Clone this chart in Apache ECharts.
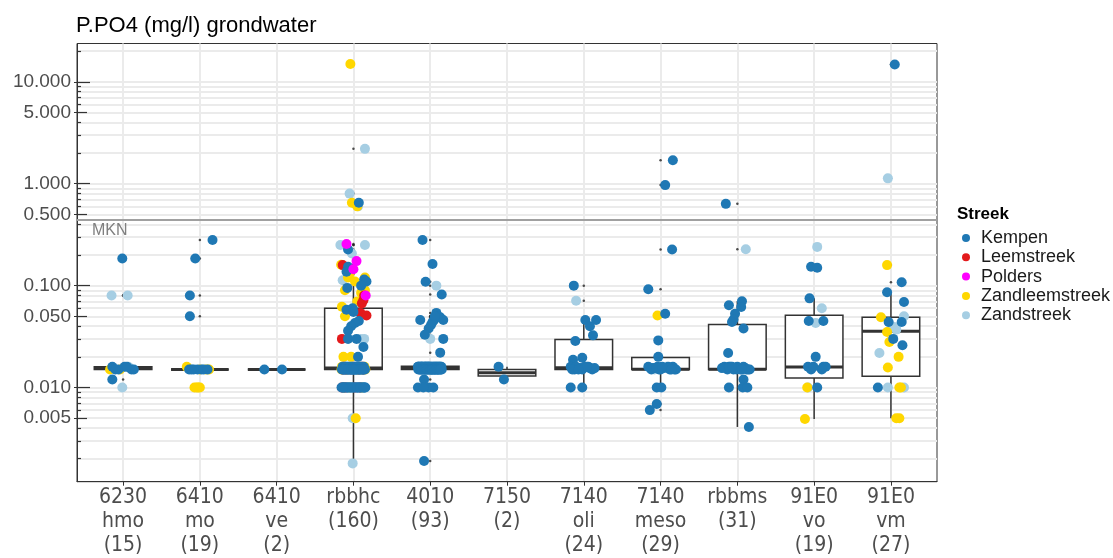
<!DOCTYPE html>
<html>
<head>
<meta charset="utf-8">
<script src="https://cdn.jsdelivr.net/npm/echarts@6/dist/echarts.min.js"></script>
<style>
  html, body { margin: 0; padding: 0; background: #ffffff; }
  #chart { width: 1113px; height: 558px; }
</style>
</head>
<body>
<div id="chart"></div>
<script>
// ---- data ----------------------------------------------------------------
const categories = ['6230\nhmo\n(15)', '6410\nmo\n(19)', '6410\nve\n(2)', 'rbbhc\n(160)', '4010\n(93)',
  '7150\n(2)', '7140\noli\n(24)', '7140\nmeso\n(29)', 'rbbms\n(31)', '91E0\nvo\n(19)', '91E0\nvm\n(27)'];
const streeks = ['Kempen', 'Leemstreek', 'Polders', 'Zandleemstreek', 'Zandstreek'];
const streekCode = { K: 'Kempen', L: 'Leemstreek', P: 'Polders', ZL: 'Zandleemstreek', Z: 'Zandstreek' };

const yLabelValues = [0.005, 0.01, 0.05, 0.1, 0.5, 1, 5, 10];
const decadeTicks = [0.01, 0.1, 1, 10];
const fiveTicks = [0.005, 0.05, 0.5, 5];
const minorTicks = [0.002, 0.003, 0.004, 0.006, 0.007, 0.008, 0.009,
  0.02, 0.03, 0.04, 0.06, 0.07, 0.08, 0.09,
  0.2, 0.3, 0.4, 0.6, 0.7, 0.8, 0.9,
  2, 3, 4, 6, 7, 8, 9, 20];
const mkn = 0.44;

// box statistics per category: [lower whisker, Q1, median, Q3, upper whisker]
const boxStats = [
  [0.015, 0.015, 0.0155, 0.016, 0.016],
  [0.015, 0.015, 0.015, 0.015, 0.015],
  [0.015, 0.015, 0.015, 0.015, 0.015],
  [0.0018, 0.015, 0.0155, 0.06, 0.12],
  [0.015, 0.015, 0.0156, 0.0162, 0.0162],
  [0.012, 0.013, 0.014, 0.015, 0.016],
  [0.01, 0.015, 0.0156, 0.0296, 0.046],
  [0.01, 0.015, 0.0151, 0.0197, 0.0197],
  [0.0041, 0.015, 0.0151, 0.0416, 0.0704],
  [0.0049, 0.0124, 0.0159, 0.0513, 0.075],
  [0.005, 0.0129, 0.0357, 0.049, 0.086]
];

// measurements per category: [value, streek]
const pts_hmo = [
  [0.185, 'K'], [0.08, 'Z'], [0.08, 'Z'], [0.016, 'K'], [0.016, 'K'],
  [0.015, 'K'], [0.015, 'K'], [0.015, 'ZL'], [0.015, 'ZL'], [0.016, 'Z'],
  [0.015, 'K'], [0.016, 'K'], [0.015, 'K'], [0.012, 'K'], [0.01, 'Z']
];
const pts_mo = [
  [0.28, 'K'], [0.185, 'K'], [0.08, 'K'], [0.05, 'K'], [0.016, 'ZL'],
  [0.015, 'ZL'], [0.015, 'K'], [0.015, 'K'], [0.015, 'K'], [0.015, 'K'],
  [0.015, 'ZL'], [0.015, 'K'], [0.015, 'ZL'], [0.015, 'K'], [0.015, 'K'],
  [0.01, 'ZL'], [0.01, 'ZL'], [0.01, 'ZL'], [0.01, 'ZL']
];
const pts_ve = [[0.015, 'K'], [0.015, 'K']];
const pts_rbbhc = [
  [15, 'ZL'], [2.2, 'Z'], [0.8, 'Z'], [0.65, 'ZL'], [0.6, 'Z'],
  [0.6, 'ZL'], [0.65, 'K'], [0.25, 'Z'], [0.256, 'P'], [0.25, 'Z'],
  [0.226, 'K'], [0.207, 'Z'], [0.174, 'P'], [0.16, 'ZL'], [0.159, 'L'],
  [0.153, 'K'], [0.137, 'K'], [0.145, 'P'], [0.113, 'Z'], [0.12, 'ZL'],
  [0.11, 'ZL'], [0.12, 'ZL'], [0.115, 'K'], [0.11, 'K'], [0.09, 'ZL'],
  [0.095, 'K'], [0.09, 'ZL'], [0.085, 'ZL'], [0.08, 'L'], [0.08, 'P'],
  [0.072, 'L'], [0.067, 'L'], [0.062, 'ZL'], [0.1, 'K'], [0.13, 'ZL'],
  [0.07, 'ZL'],
  [0.06, 'K'], [0.058, 'K'], [0.055, 'K'], [0.05, 'ZL'], [0.054, 'L'],
  [0.051, 'L'], [0.045, 'K'], [0.043, 'K'], [0.04, 'K'], [0.036, 'K'],
  [0.03, 'L'], [0.03, 'K'], [0.03, 'K'], [0.03, 'Z'], [0.03, 'Z'],
  [0.025, 'K'], [0.02, 'ZL'], [0.02, 'ZL'], [0.02, 'K'],
  // 0.016 row
  [0.016, 'K'], [0.016, 'K'], [0.016, 'K'], [0.016, 'K'], [0.016, 'K'],
  [0.016, 'K'], [0.016, 'K'], [0.016, 'K'], [0.016, 'K'], [0.016, 'K'],
  [0.016, 'K'], [0.016, 'K'], [0.016, 'K'], [0.016, 'K'], [0.016, 'K'],
  [0.016, 'ZL'], [0.016, 'ZL'], [0.016, 'ZL'], [0.016, 'ZL'],
  [0.016, 'Z'], [0.016, 'Z'], [0.016, 'Z'],
  [0.016, 'L'], [0.016, 'L'], [0.016, 'L'],
  // 0.015 row
  [0.015, 'K'], [0.015, 'K'], [0.015, 'K'], [0.015, 'K'], [0.015, 'K'],
  [0.015, 'K'], [0.015, 'K'], [0.015, 'K'], [0.015, 'K'], [0.015, 'K'],
  [0.015, 'K'], [0.015, 'K'], [0.015, 'K'], [0.015, 'K'], [0.015, 'K'],
  [0.015, 'K'], [0.015, 'K'], [0.015, 'K'], [0.015, 'K'], [0.015, 'K'],
  [0.015, 'K'], [0.015, 'K'], [0.015, 'K'], [0.015, 'K'], [0.015, 'K'],
  [0.015, 'K'], [0.015, 'K'], [0.015, 'K'], [0.015, 'K'], [0.015, 'K'],
  [0.015, 'ZL'], [0.015, 'ZL'], [0.015, 'ZL'], [0.015, 'ZL'], [0.015, 'ZL'],
  [0.015, 'Z'], [0.015, 'Z'], [0.015, 'Z'],
  [0.015, 'L'], [0.015, 'L'], [0.015, 'L'], [0.015, 'L'], [0.015, 'L'],
  // 0.010 row
  [0.01, 'K'], [0.01, 'K'], [0.01, 'K'], [0.01, 'K'], [0.01, 'K'],
  [0.01, 'K'], [0.01, 'K'], [0.01, 'K'], [0.01, 'K'], [0.01, 'K'],
  [0.01, 'K'], [0.01, 'K'], [0.01, 'K'], [0.01, 'K'], [0.01, 'K'],
  [0.01, 'K'], [0.01, 'K'], [0.01, 'K'], [0.01, 'K'], [0.01, 'K'],
  [0.01, 'K'], [0.01, 'K'], [0.01, 'K'], [0.01, 'K'],
  [0.01, 'L'], [0.01, 'L'], [0.01, 'L'], [0.01, 'L'],
  [0.01, 'ZL'], [0.01, 'ZL'], [0.01, 'ZL'],
  [0.01, 'Z'], [0.01, 'Z'], [0.01, 'Z'],
  [0.005, 'ZL'], [0.005, 'Z'], [0.0018, 'Z']
];
const pts_4010 = [
  [0.28, 'K'], [0.163, 'K'], [0.109, 'K'], [0.1, 'Z'], [0.082, 'K'],
  [0.054, 'K'], [0.049, 'K'], [0.046, 'K'], [0.046, 'K'], [0.046, 'K'],
  [0.041, 'K'], [0.038, 'K'], [0.033, 'K'], [0.03, 'Z'], [0.03, 'K'],
  [0.022, 'K'], [0.05, 'K'], [0.044, 'K'], [0.05, 'K'],
  [0.012, 'K'], [0.01, 'K'], [0.01, 'K'], [0.01, 'K'], [0.01, 'K'], [0.0019, 'K'],
  // 0.016 band
  [0.016, 'K'], [0.016, 'K'], [0.016, 'K'], [0.016, 'K'], [0.016, 'K'],
  [0.016, 'K'], [0.016, 'K'], [0.016, 'K'], [0.016, 'K'], [0.016, 'K'],
  [0.016, 'K'], [0.016, 'K'], [0.016, 'K'], [0.016, 'K'], [0.016, 'K'],
  [0.016, 'K'], [0.016, 'K'], [0.016, 'K'], [0.016, 'K'], [0.016, 'K'],
  [0.016, 'K'], [0.016, 'K'], [0.016, 'K'], [0.016, 'K'], [0.016, 'K'],
  [0.016, 'K'], [0.016, 'K'], [0.016, 'K'], [0.016, 'K'], [0.016, 'K'],
  [0.016, 'K'], [0.016, 'K'], [0.016, 'K'], [0.016, 'K'],
  // 0.015 band
  [0.015, 'K'], [0.015, 'K'], [0.015, 'K'], [0.015, 'K'], [0.015, 'K'],
  [0.015, 'K'], [0.015, 'K'], [0.015, 'K'], [0.015, 'K'], [0.015, 'K'],
  [0.015, 'K'], [0.015, 'K'], [0.015, 'K'], [0.015, 'K'], [0.015, 'K'],
  [0.015, 'K'], [0.015, 'K'], [0.015, 'K'], [0.015, 'K'], [0.015, 'K'],
  [0.015, 'K'], [0.015, 'K'], [0.015, 'K'], [0.015, 'K'], [0.015, 'K'],
  [0.015, 'K'], [0.015, 'K'], [0.015, 'K'], [0.015, 'K'], [0.015, 'K'],
  [0.015, 'K'], [0.015, 'K'], [0.015, 'K'], [0.015, 'K']
];
const pts_7150 = [[0.016, 'K'], [0.012, 'K']];
const pts_oli = [
  [0.1, 'K'], [0.071, 'Z'], [0.046, 'K'], [0.046, 'K'], [0.04, 'K'],
  [0.0325, 'K'], [0.0286, 'K'], [0.0196, 'K'], [0.0187, 'K'],
  [0.016, 'K'], [0.015, 'K'], [0.0155, 'K'], [0.016, 'K'], [0.016, 'K'],
  [0.015, 'K'], [0.0155, 'K'], [0.016, 'K'], [0.015, 'K'], [0.0155, 'K'],
  [0.015, 'K'], [0.016, 'K'], [0.015, 'K'],
  [0.01, 'K'], [0.01, 'K']
];
const pts_meso = [
  [1.7, 'K'], [0.97, 'K'], [0.226, 'K'], [0.092, 'K'], [0.051, 'ZL'],
  [0.053, 'K'], [0.029, 'K'], [0.02, 'K'],
  [0.016, 'K'], [0.015, 'K'], [0.015, 'Z'], [0.016, 'K'], [0.015, 'K'],
  [0.0155, 'K'], [0.016, 'Z'], [0.015, 'K'], [0.016, 'K'], [0.015, 'K'],
  [0.0155, 'K'], [0.015, 'K'], [0.016, 'K'], [0.015, 'K'], [0.0155, 'K'],
  [0.015, 'K'], [0.016, 'K'],
  [0.01, 'K'], [0.01, 'K'], [0.0069, 'K'], [0.006, 'K']
];
const pts_rbbms = [
  [0.635, 'K'], [0.228, 'Z'], [0.0704, 'K'], [0.0618, 'K'], [0.0643, 'K'],
  [0.053, 'K'], [0.0465, 'K'], [0.044, 'K'], [0.038, 'K'], [0.0218, 'K'],
  [0.016, 'K'], [0.015, 'K'], [0.016, 'K'], [0.015, 'K'], [0.016, 'K'],
  [0.015, 'K'], [0.016, 'K'], [0.015, 'K'], [0.015, 'K'], [0.0155, 'K'],
  [0.016, 'K'], [0.015, 'K'], [0.0155, 'K'], [0.015, 'K'], [0.016, 'K'],
  [0.015, 'K'],
  [0.012, 'K'], [0.01, 'K'], [0.01, 'K'], [0.01, 'K'], [0.0041, 'K']
];
const pts_vo = [
  [0.24, 'Z'], [0.153, 'K'], [0.15, 'K'], [0.075, 'K'], [0.06, 'Z'],
  [0.045, 'K'], [0.045, 'K'], [0.043, 'Z'], [0.02, 'K'], [0.016, 'K'],
  [0.015, 'K'], [0.016, 'K'], [0.016, 'K'], [0.015, 'K'], [0.016, 'K'],
  [0.01, 'ZL'], [0.01, 'K'], [0.01, 'Z'], [0.0049, 'ZL']
];
const pts_vm = [
  [14.8, 'K'], [1.13, 'Z'], [0.159, 'ZL'], [0.108, 'K'], [0.086, 'K'],
  [0.069, 'K'], [0.049, 'ZL'], [0.05, 'Z'], [0.044, 'K'], [0.044, 'K'],
  [0.039, 'Z'], [0.037, 'Z'], [0.035, 'ZL'], [0.028, 'ZL'], [0.026, 'K'],
  [0.0218, 'Z'], [0.02, 'ZL'], [0.0157, 'ZL'], [0.01, 'K'], [0.01, 'ZL'],
  [0.01, 'Z'], [0.01, 'Z'], [0.005, 'ZL'], [0.005, 'ZL'], [0.04, 'Z'],
  [0.03, 'K'], [0.01, 'ZL']
];

// horizontal jitter of each measurement (in category widths), same order as above
const jit_hmo = [-0.01, -0.15, 0.06, -0.14, 0.02, 0.11, 0.14, -0.17, -0.04, 0.07, -0.06, 0.05, -0.10, -0.14, -0.01];
const jit_mo = [0.165, -0.06, -0.13, -0.13, -0.17, 0.12, -0.14, -0.03, 0.02, 0.05, 0.08, -0.08, 0.0, 0.10, -0.11, -0.07, -0.04, -0.02, 0.0];
const jit_ve = [-0.16, 0.07];
const jit_rbbhc = [
  -0.04, 0.15, -0.05, -0.02, 0.06, 0.05, 0.07, -0.17, -0.09, 0.15,
  -0.07, -0.02, 0.04, -0.16, -0.14, -0.07, -0.09, 0.0, -0.14, -0.07,
  0.02, 0.15, 0.14, 0.17, -0.11, -0.08, 0.15, 0.10, 0.14, 0.16,
  0.13, 0.11, -0.15, 0.10, -0.05, 0.05,
  -0.01, -0.09, 0.0, -0.11, 0.09, 0.17, 0.07, 0.02, -0.03, -0.07,
  -0.15, -0.07, 0.04, 0.09, 0.14, 0.13, -0.13, -0.03, 0.06,
  -0.14, -0.11, -0.085, -0.06, -0.035, -0.015, 0.01, 0.03, 0.05, 0.07, 0.09, 0.11, 0.135, -0.10, 0.055,
  -0.15, -0.05, 0.085, 0.145, -0.07, 0.02, 0.105, -0.125, 0.0, 0.12,
  -0.15, -0.135, -0.12, -0.105, -0.09, -0.075, -0.065, -0.05, -0.035, -0.02,
  -0.01, 0.005, 0.02, 0.035, 0.05, 0.065, 0.075, 0.09, 0.105, 0.12,
  0.135, 0.15, -0.125, -0.07, -0.03, 0.015, 0.04, 0.085, 0.125, 0.0,
  -0.155, -0.085, 0.055, 0.11, 0.155, -0.11, 0.03, 0.10, -0.14, -0.04, 0.07, 0.13, -0.10,
  -0.155, -0.135, -0.115, -0.09, -0.07, -0.05, -0.03, -0.01, 0.015, 0.035,
  0.055, 0.075, 0.10, 0.12, 0.14, 0.155, -0.12, -0.08, -0.035, 0.005,
  0.05, 0.09, 0.135, -0.14,
  -0.15, -0.105, 0.02, 0.085, -0.125, -0.055, 0.11, -0.085, 0.065, 0.15,
  0.03, -0.01, -0.01
];
const jit_4010 = [
  -0.10, 0.03, -0.06, 0.08, 0.15, 0.08, 0.13, 0.17, 0.05, -0.13,
  0.01, -0.02, -0.07, 0.0, 0.17, 0.13, 0.10, 0.03, 0.06,
  -0.08, -0.16, -0.02, 0.04, -0.09, -0.08,
  -0.16, -0.15, -0.135, -0.125, -0.115, -0.105, -0.095, -0.08, -0.07, -0.06,
  -0.05, -0.04, -0.03, -0.02, -0.01, 0.0, 0.01, 0.02, 0.035, 0.045,
  0.055, 0.065, 0.075, 0.085, 0.095, 0.105, 0.115, 0.125, 0.135, 0.145,
  -0.155, -0.11, -0.065, -0.025, 0.015, 0.06, 0.1, 0.15,
  -0.155, -0.14, -0.13, -0.12, -0.11, -0.1, -0.085, -0.075, -0.065, -0.055,
  -0.045, -0.035, -0.025, -0.015, -0.005, 0.005, 0.015, 0.025, 0.03, 0.04,
  0.05, 0.06, 0.07, 0.08, 0.09, 0.1, 0.11, 0.12, 0.13, 0.14,
  -0.1, 0.0, 0.09, 0.15
];
const jit_7150 = [-0.11, -0.04];
const jit_oli = [-0.13, -0.10, 0.02, 0.16, 0.08, 0.12, -0.11, -0.02, -0.14,
  -0.17, -0.12, -0.05, 0.01, 0.06, 0.11, 0.08, -0.10, -0.02, 0.14, -0.15, 0.04, -0.07,
  -0.17, -0.02];
const jit_meso = [0.16, 0.06, 0.15, -0.16, -0.04, 0.06, -0.03, -0.03,
  -0.16, -0.12, -0.08, -0.04, 0.0, 0.04, 0.08, 0.12, 0.16, 0.2, -0.1, -0.02, 0.1, 0.18, -0.06, 0.14, 0.02,
  -0.05, 0.01, -0.05, -0.14];
const jit_rbbms = [-0.15, 0.11, 0.06, 0.05, -0.11, -0.03, -0.05, -0.07, 0.08, -0.12,
  -0.17, -0.13, -0.09, -0.05, 0.0, 0.04, 0.08, 0.12, 0.16, -0.2, -0.11, -0.01, 0.1, 0.14, -0.07, 0.06,
  0.08, -0.11, 0.07, 0.13, 0.15];
const jit_vo = [0.04, -0.04, 0.04, -0.06, 0.10, -0.07, 0.12, 0.02, 0.02, -0.08,
  -0.04, 0.12, 0.15, 0.10, -0.01, -0.09, 0.04, -0.08, -0.12];
const jit_vm = [0.05, -0.04, -0.05, 0.14, -0.05, 0.17, -0.13, 0.17, -0.03, 0.14,
  0.06, 0.07, -0.05, -0.02, 0.15, -0.15, 0.10, -0.04, -0.17, 0.11,
  -0.04, 0.17, 0.07, 0.11, 0.01, 0.03, 0.13];

const pointsByCategory = [pts_hmo, pts_mo, pts_ve, pts_rbbhc, pts_4010, pts_7150, pts_oli, pts_meso, pts_rbbms, pts_vo, pts_vm];
const jitterByCategory = [jit_hmo, jit_mo, jit_ve, jit_rbbhc, jit_4010, jit_7150, jit_oli, jit_meso, jit_rbbms, jit_vo, jit_vm];

// ---- styling --------------------------------------------------------------
const streekColors = {
  Kempen: '#1f78b4', Leemstreek: '#e31a1c', Polders: '#ff00ff',
  Zandleemstreek: '#ffd700', Zandstreek: '#a6cee3'
};
const drawOrder = ['Zandstreek', 'Zandleemstreek', 'Leemstreek', 'Kempen', 'Polders'];
const gridColor = '#ebebeb';
const inkColor = '#333333';
const textColor = '#4d4d4d';
const sans = '"Liberation Sans", Arial, sans-serif';
const narrow = '"Liberation Sans Narrow", "Arial Narrow", "DejaVu Sans Condensed", sans-serif';

// ---- series assembly ----------------------------------------------------------
const pointSeriesData = {};
streeks.forEach(s => { pointSeriesData[s] = []; });
const outlierData = [];
pointsByCategory.forEach((pts, ci) => {
  const jit = jitterByCategory[ci];
  const [lo, , , , hi] = boxStats[ci];
  pts.forEach(([v, code], k) => {
    pointSeriesData[streekCode[code]].push([ci + jit[k], v]);
    if (v > hi || v < lo) outlierData.push([ci, v]);
  });
});

const catIndex = categories.map((_, i) => i);
const yBase = { type: 'log', logBase: 10, min: 0.00119, max: 23.8, position: 'left', gridIndex: 0 };
const hiddenLabel = { show: false };

function boxRenderItem(params, api) {
  const i = api.value(0);
  const lo = api.value(1), q1 = api.value(2), md = api.value(3), q3 = api.value(4), hi = api.value(5);
  const left = api.coord([i - 0.375, md])[0];
  const right = api.coord([i + 0.375, md])[0];
  const cx = api.coord([i, md])[0];
  const yLo = api.coord([i, lo])[1], yQ1 = api.coord([i, q1])[1], yMd = api.coord([i, md])[1];
  const yQ3 = api.coord([i, q3])[1], yHi = api.coord([i, hi])[1];
  const st = { stroke: inkColor, lineWidth: 1.5, fill: null };
  return {
    type: 'group',
    children: [
      { type: 'line', shape: { x1: cx, y1: yHi, x2: cx, y2: yQ3 }, style: st },
      { type: 'line', shape: { x1: cx, y1: yQ1, x2: cx, y2: yLo }, style: st },
      { type: 'rect', shape: { x: left, y: yQ3, width: right - left, height: yQ1 - yQ3 },
        style: { stroke: inkColor, lineWidth: 1.5, fill: '#ffffff' } },
      { type: 'line', shape: { x1: left, y1: yMd, x2: right, y2: yMd }, style: { stroke: inkColor, lineWidth: 3 } }
    ]
  };
}

const series = [
  {
    type: 'custom', name: 'box', silent: true, z: 2,
    data: boxStats.map((s, i) => [i].concat(s)),
    encode: { x: 0, y: [1, 2, 3, 4, 5] },
    renderItem: boxRenderItem
  },
  {
    type: 'scatter', name: 'outlier', silent: true, z: 2,
    symbol: 'circle', symbolSize: 2.5,
    itemStyle: { color: '#222222' },
    data: outlierData,
    markLine: {
      silent: true, symbol: 'none', animation: false,
      lineStyle: { color: '#a0a0a0', width: 2, type: 'solid' },
      label: { show: true, formatter: 'MKN', position: 'insideStartBottom', distance: [15, 3],
        color: '#7f7f7f', fontSize: 16, fontFamily: sans },
      data: [{ yAxis: mkn }]
    }
  }
].concat(drawOrder.map(name => ({
  type: 'scatter', name, silent: true, z: 3,
  symbol: 'circle', symbolSize: 10,
  itemStyle: { color: streekColors[name], opacity: 1 },
  data: pointSeriesData[name]
})));

const option = {
  animation: false,
  backgroundColor: '#ffffff',
  title: [
    { text: 'P.PO4 (mg/l) grondwater', left: 76, top: 15, padding: 0,
      textStyle: { fontFamily: sans, fontSize: 22, fontWeight: 'normal', color: '#000000' } },
    { text: 'Streek', left: 957, top: 205.5, padding: 0,
      textStyle: { fontFamily: sans, fontSize: 17, fontWeight: 'bold', color: '#000000' } }
  ],
  legend: {
    data: streeks, orient: 'vertical', left: 962, top: 229, padding: 0,
    icon: 'circle', itemWidth: 20, itemHeight: 8, itemGap: 1.3,
    selectedMode: false,
    textStyle: { fontFamily: sans, fontSize: 18, lineHeight: 18, color: '#1a1a1a' }
  },
  grid: {
    left: 77, right: 176, top: 43.5, bottom: 76.3,
    show: true, borderColor: inkColor, borderWidth: 1, backgroundColor: '#ffffff',
    containLabel: false, outerBoundsMode: 'none'
  },
  xAxis: {
    type: 'value', min: -0.6, max: 10.6, position: 'bottom',
    axisLine: { show: true, onZero: false, lineStyle: { color: inkColor, width: 1 } },
    axisTick: { show: true, length: 4, customValues: catIndex, lineStyle: { color: inkColor } },
    axisLabel: {
      customValues: catIndex, formatter: v => categories[Math.round(v)],
      fontFamily: narrow, fontSize: 21, lineHeight: 24, color: textColor, margin: 4
    },
    splitLine: { show: true, lineStyle: { color: gridColor, width: 2 } }
  },
  yAxis: [
    Object.assign({}, yBase, {
      axisLine: { show: true, onZero: false, lineStyle: { color: inkColor, width: 1 } },
      axisTick: { show: true, inside: false, length: 3, customValues: yLabelValues, lineStyle: { color: inkColor } },
      axisLabel: { customValues: yLabelValues, formatter: v => Number(v).toFixed(3),
        fontFamily: sans, fontSize: 19, color: textColor, margin: 6 },
      splitLine: { show: false }
    }),
    Object.assign({}, yBase, {
      axisLine: { show: false, onZero: false },
      axisTick: { show: true, inside: true, length: 13, customValues: decadeTicks, lineStyle: { color: inkColor, width: 1.2 } },
      axisLabel: hiddenLabel,
      splitLine: { show: true, lineStyle: { color: gridColor, width: 2 } }
    }),
    Object.assign({}, yBase, {
      axisLine: { show: false, onZero: false },
      axisTick: { show: true, inside: true, length: 10, customValues: fiveTicks, lineStyle: { color: inkColor, width: 1.2 } },
      axisLabel: hiddenLabel,
      splitLine: { show: true, lineStyle: { color: gridColor, width: 2 } }
    }),
    Object.assign({}, yBase, {
      axisLine: { show: false, onZero: false },
      axisTick: { show: true, inside: true, length: 4, customValues: minorTicks, lineStyle: { color: inkColor, width: 1.2 } },
      axisLabel: hiddenLabel,
      splitLine: { show: true, lineStyle: { color: gridColor, width: 2 } }
    })
  ],
  series
};

const chart = echarts.init(document.getElementById('chart'), null, { renderer: 'canvas' });
chart.setOption(option);
</script>
</body>
</html>
